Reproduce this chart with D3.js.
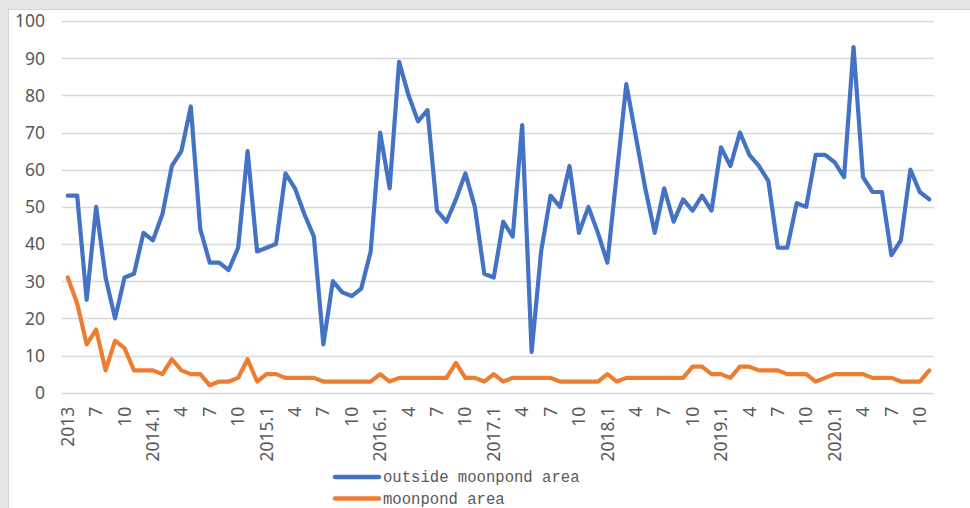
<!DOCTYPE html>
<html>
<head>
<meta charset="utf-8">
<script src="https://cdn.jsdelivr.net/npm/d3@7"></script>
<style>
html,body{margin:0;padding:0;background:#e6e6e6;}
svg{display:block;}
</style>
</head>
<body>
<svg id="chart" width="970" height="508"></svg>
<script>
// Monthly categories: 2013.4 ... 2020.11
const startYear = 2013, startMonth = 4, nMonths = 92;
const categories = [];
for (let i = 0; i < nMonths; i++) {
  const m = startMonth - 1 + i;
  categories.push((startYear + Math.floor(m / 12)) + "." + ((m % 12) + 1));
}

const tickLabels = ["2013","7","10","2014.1","4","7","10","2015.1","4","7","10",
  "2016.1","4","7","10","2017.1","4","7","10","2018.1","4","7","10",
  "2019.1","4","7","10","2020.1","4","7","10"];

const outsideMoonpond = [53,53,25,50,31,20,31,32,43,41,
  48,61,65,77,44,35,35,33,39,65,
  38,39,40,59,55,48,42,13,30,27,
  26,28,38,70,55,89,80,73,76,49,
  46,52,59,50,32,31,46,42,72,11,
  38,53,50,61,43,50,43,35,59,83,
  69,55,43,55,46,52,49,53,49,66,
  61,70,64,61,57,39,39,51,50,64,
  64,62,58,93,58,54,54,37,41,60,
  54,52];

const moonpond = [31,24,13,17,6,14,12,6,6,6,
  5,9,6,5,5,2,3,3,4,9,
  3,5,5,4,4,4,4,3,3,3,
  3,3,3,5,3,4,4,4,4,4,
  4,8,4,4,3,5,3,4,4,4,
  4,4,3,3,3,3,3,5,3,4,
  4,4,4,4,4,4,7,7,5,5,
  4,7,7,6,6,6,5,5,5,3,
  4,5,5,5,5,4,4,4,3,3,
  3,6];

const yTicks = [0,10,20,30,40,50,60,70,80,90,100];

const seriesNames = ["outside moonpond area", "moonpond area"];
const seriesColors = ["#4472C4", "#ED7D31"];
const seriesData = [outsideMoonpond, moonpond];

const svg = d3.select("#chart");
const W = 970, H = 508;

// chart area
svg.append("rect").attr("x", 0).attr("y", 0).attr("width", W).attr("height", H).attr("fill", "#e6e6e6");
svg.append("rect").attr("x", 8.5).attr("y", 9.5).attr("width", W).attr("height", H)
  .attr("fill", "#ffffff").attr("stroke", "#d4d4d4").attr("stroke-width", 1);

const plot = {left: 63, right: 934, top: 21, bottom: 392.7};

const x = d3.scaleBand().domain(categories).range([plot.left, plot.right]).padding(0);
const y = d3.scaleLinear().domain([0, 100]).range([plot.bottom, plot.top]);
const cx = c => x(c) + x.bandwidth() / 2;

// gridlines
svg.append("g").selectAll("line").data(yTicks).join("line")
  .attr("x1", plot.left - 1).attr("x2", plot.right)
  .attr("y1", d => Math.round(y(d)) + 0.5).attr("y2", d => Math.round(y(d)) + 0.5)
  .attr("stroke", "#d9d9d9").attr("stroke-width", 1.5);

// y axis labels
const yAxis = d3.axisLeft(y).tickValues(yTicks).tickSize(0).tickPadding(0);
const yg = svg.append("g").attr("transform", `translate(${plot.left - 18},0)`).call(yAxis);
yg.select(".domain").remove();
yg.selectAll("text")
  .attr("font-family", "'Noto Sans', 'Liberation Sans', sans-serif")
  .attr("font-size", "17.5px").attr("fill", "#595959").attr("dy", "0.34em");

// x axis labels (every 3rd category)
const tickCats = categories.filter((c, i) => i % 3 === 0);
const xAxis = d3.axisBottom(x).tickValues(tickCats)
  .tickFormat((c) => tickLabels[categories.indexOf(c) / 3]).tickSize(0).tickPadding(0);
const xg = svg.append("g").attr("transform", `translate(0,${plot.bottom})`).call(xAxis);
xg.select(".domain").remove();
xg.selectAll("text")
  .attr("font-family", "'Noto Sans', 'Liberation Sans', sans-serif")
  .attr("font-size", "17.5px").attr("fill", "#595959")
  .attr("text-anchor", "end")
  .attr("transform", "translate(0,14) rotate(-90)")
  .attr("x", 0).attr("y", 0).attr("dy", "0.35em");

// lines
const line = d3.line().x((d, i) => cx(categories[i])).y(d => y(d));
seriesData.forEach((data, k) => {
  svg.append("path").datum(data)
    .attr("d", line)
    .attr("fill", "none")
    .attr("stroke", seriesColors[k])
    .attr("stroke-width", 4.2)
    .attr("stroke-linejoin", "round")
    .attr("stroke-linecap", "round");
});

// legend
const legendY = [477, 498.5];
const lg = svg.append("g");
seriesNames.forEach((name, k) => {
  lg.append("line").attr("x1", 335).attr("x2", 379)
    .attr("y1", legendY[k]).attr("y2", legendY[k])
    .attr("stroke", seriesColors[k]).attr("stroke-width", 4.5).attr("stroke-linecap", "round");
  lg.append("text").attr("x", 383).attr("y", legendY[k]).attr("dy", "0.33em")
    .attr("font-family", "'Liberation Mono', 'DejaVu Sans Mono', monospace")
    .attr("font-size", "15.6px").attr("fill", "#595959")
    .text(name);
});
</script>
</body>
</html>
